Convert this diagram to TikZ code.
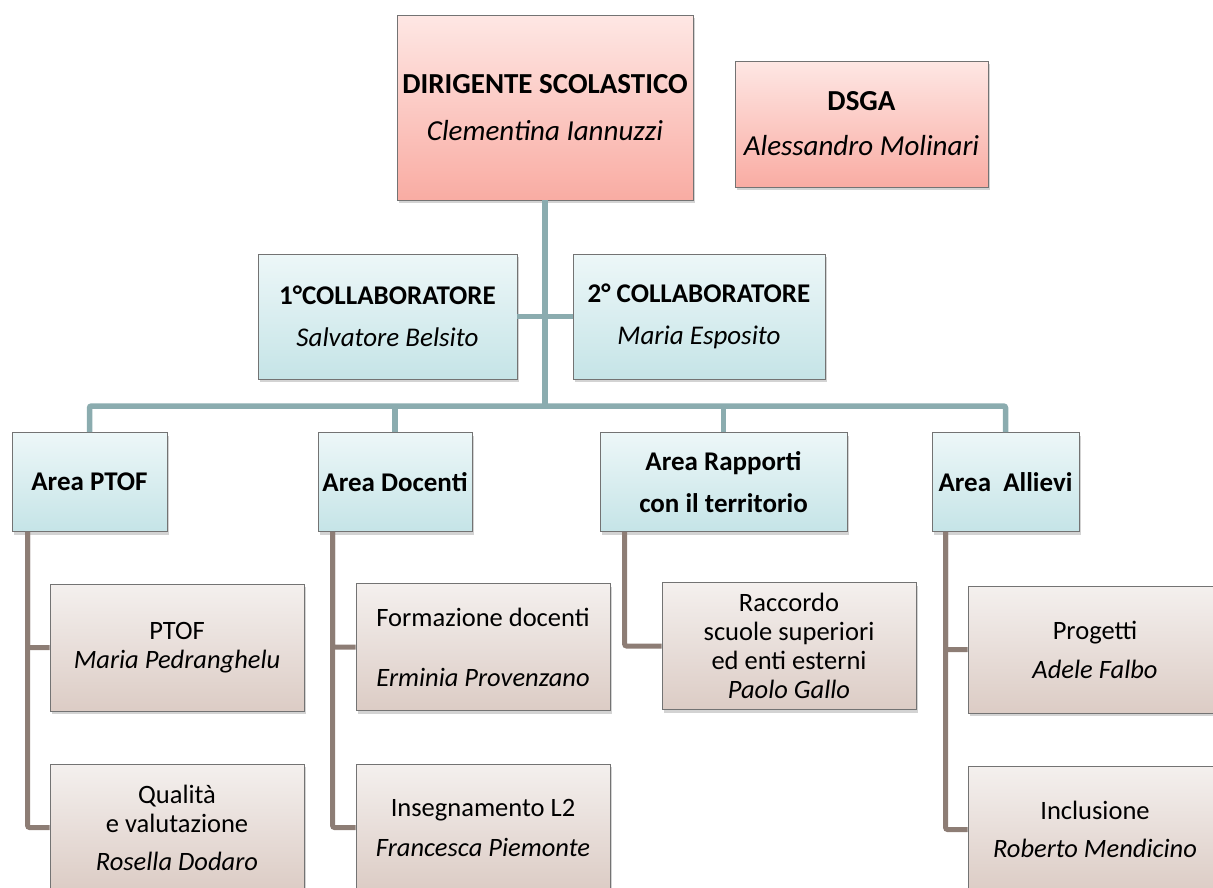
\documentclass[tikz,border=0pt]{standalone}
\usepackage{fontspec}
\setmainfont{Carlito}
\usetikzlibrary{shadows}

\definecolor{tealline}{RGB}{139,172,175}
\definecolor{brownline}{RGB}{141,125,117}
\definecolor{pinktop}{RGB}{254,231,228}
\definecolor{pinkbot}{RGB}{249,172,163}
\definecolor{tealtop}{RGB}{237,247,248}
\definecolor{tealbot}{RGB}{197,228,231}
\definecolor{browntop}{RGB}{244,240,238}
\definecolor{brownbot}{RGB}{220,204,197}

\begin{document}
\begin{tikzpicture}[x=1pt, y=-1pt,
		box/.style = {draw=gray!90!black, line width=0.8pt, inner sep=0pt, align=center,
			drop shadow={shadow xshift=2pt, shadow yshift=-3pt, opacity=0.35}},
		headbox/.style = {box, top color=pinktop, bottom color=pinkbot, font=\fontsize{29}{32}\selectfont},
		staffbox/.style = {box, top color=tealtop, bottom color=tealbot, font=\fontsize{27}{29}\selectfont},
		taskbox/.style = {box, top color=browntop, bottom color=brownbot, font=\fontsize{26.5}{29}\selectfont,
			minimum width=254pt, minimum height=127pt},
		areabox/.style = {staffbox, minimum height=99pt},
		tealwire/.style = {draw=tealline, line width=5.5pt, rounded corners=2pt},
		brownwire/.style = {draw=brownline, line width=5pt, rounded corners=2pt}]
		
		\useasboundingbox (0,0) rectangle (1213,887);
		\clip (0,0) rectangle (1213,887);
		
		\node[headbox, minimum width=296pt, minimum height=185pt] (dirigente) at (545,107.5)
			{\textbf{DIRIGENTE SCOLASTICO}\\[15pt]\textit{Clementina Iannuzzi}};
		\node[headbox, minimum width=253pt, minimum height=126pt] (dsga) at (861.5,124)
			{\textbf{DSGA}\\[13pt]\textit{Alessandro Molinari}};
		
		\node[staffbox, minimum width=259pt, minimum height=125pt] (collabA) at (387.5,316.5)
			{\textbf{1°COLLABORATORE}\\[13pt]\textit{Salvatore Belsito}};
		\node[staffbox, minimum width=252pt, minimum height=125pt] (collabB) at (699,316.5)
			{\textbf{2° COLLABORATORE}\\[13pt]\textit{Maria Esposito}};
		
		\node[areabox, minimum width=155pt] (areaPtof) at (89.5,482) {\textbf{Area PTOF}};
		\node[areabox, minimum width=154pt] (areaDocenti) at (395,482) {\textbf{Area Docenti}};
		\node[areabox, minimum width=247pt] (areaRapporti) at (723.5,482)
			{\textbf{Area Rapporti}\\[13pt]\textbf{con il territorio}};
		\node[areabox, minimum width=147pt] (areaAllievi) at (1005.5,482) {\textbf{Area\ \ Allievi}};
		
		\node[taskbox] (ptof) at (177,647.5) {PTOF\\\textit{Maria Pedranghelu}};
		\node[taskbox] (qualita) at (177,827.5)
			{Qualità\\e valutazione\\[9pt]\textit{Rosella Dodaro}};
		\node[taskbox] (formazione) at (483,647) {Formazione docenti\\[31pt]\textit{Erminia Provenzano}};
		\node[taskbox] (insegnamento) at (483,827.5) {Insegnamento L2\\[11pt]\textit{Francesca Piemonte}};
		\node[taskbox] (raccordo) at (789,646)
			{Raccordo\\scuole superiori\\ed enti esterni\\\textit{Paolo Gallo}};
		\node[taskbox] (progetti) at (1095,649.5) {Progetti\\[10pt]\textit{Adele Falbo}};
		\node[taskbox] (inclusione) at (1095,829.5) {Inclusione\\[9pt]\textit{Roberto Mendicino}};
		
		\coordinate (bar) at (545,406);
		
		\draw[tealwire] (dirigente.south) -- (bar);
		\draw[tealwire] (collabA.east) -- (collabB.west);
		\draw[tealwire] (areaPtof.north) |- (bar) -| (areaAllievi.north);
		\draw[tealwire] (areaDocenti.north) -- (areaDocenti.north |- bar);
		\draw[tealwire] (areaRapporti.north) -- (areaRapporti.north |- bar);
		
		\draw[brownwire] ([xshift=16pt]areaPtof.south west) |- (qualita.west);
		\draw[brownwire] ([xshift=16pt]areaPtof.south west) |- (ptof.west);
		\draw[brownwire] ([xshift=15pt]areaDocenti.south west) |- (insegnamento.west);
		\draw[brownwire] ([xshift=15pt]areaDocenti.south west) |- (formazione.west);
		\draw[brownwire] ([xshift=25pt]areaRapporti.south west) |- (raccordo.west);
		\draw[brownwire] ([xshift=14pt]areaAllievi.south west) |- (inclusione.west);
		\draw[brownwire] ([xshift=14pt]areaAllievi.south west) |- (progetti.west);
	\end{tikzpicture}
\end{document}
